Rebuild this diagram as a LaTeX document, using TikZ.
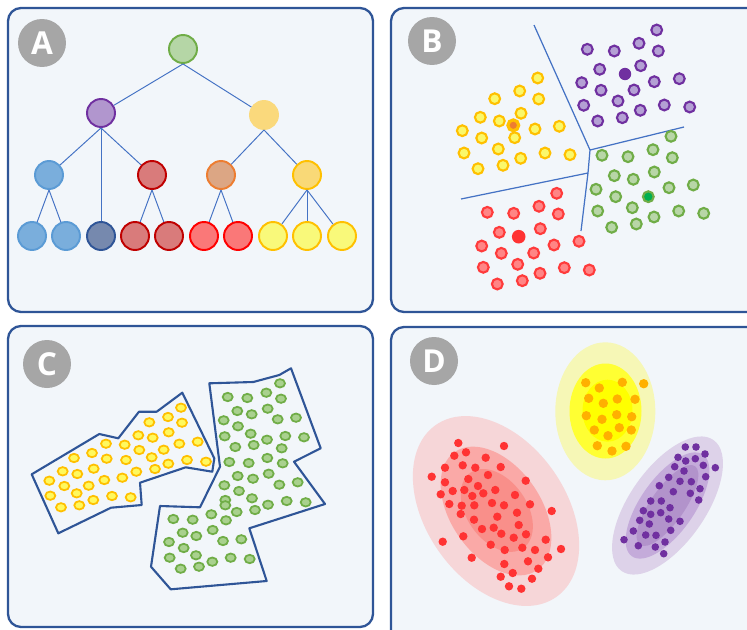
\documentclass[tikz,border=0pt]{standalone}
\usepackage{fontspec}
\newfontfamily\badgefont{Open Sans}
\usetikzlibrary{positioning}
\definecolor{panelbg}{HTML}{F2F6FA}
\definecolor{panelline}{HTML}{2F5597}
\definecolor{badgegray}{HTML}{A6A6A6}
\definecolor{linkblue}{HTML}{4472C4}
% tree colours
\definecolor{rootfill}{HTML}{B5D6A6}\definecolor{rootline}{HTML}{70AD47}
\definecolor{purfill}{HTML}{B196CE}\definecolor{purline}{HTML}{7030A0}
\definecolor{lyfill}{HTML}{FAD97C}
\definecolor{blufill}{HTML}{7AAEDC}\definecolor{bluline}{HTML}{5B9BD5}
\definecolor{dbfill}{HTML}{7689AE}\definecolor{dbline}{HTML}{2F5597}
\definecolor{drfill}{HTML}{D97B7B}\definecolor{drline}{HTML}{C00000}
\definecolor{orfill}{HTML}{DCA684}\definecolor{orline}{HTML}{ED7D31}
\definecolor{yofill}{HTML}{F9D977}\definecolor{yoline}{HTML}{FFC000}
\definecolor{brfill}{HTML}{FA7878}\definecolor{brline}{HTML}{FF0000}
\definecolor{ylfill}{HTML}{F9F97A}
% dot colours
\definecolor{bpurfill}{HTML}{B4A0D4}
\definecolor{byelfill}{HTML}{FAF86B}
\definecolor{bgrnfill}{HTML}{B8D6A7}\definecolor{bgrnctr}{HTML}{00B050}
\definecolor{bredfill}{HTML}{FF8585}\definecolor{bredline}{HTML}{FF3B3B}
\definecolor{cyelfill}{HTML}{FFF95E}\definecolor{cgrnfill}{HTML}{A9D18E}
\definecolor{dred}{HTML}{FF3333}\definecolor{dorange}{HTML}{FFB000}
% ellipse colours
\definecolor{redo}{HTML}{F6D6D8}\definecolor{redm}{HTML}{FAA9A7}\definecolor{redi}{HTML}{F98F8A}
\definecolor{yelo}{HTML}{F6F7B6}\definecolor{yelm}{HTML}{FFFF33}\definecolor{yeli}{HTML}{FFFF00}
\definecolor{puro}{HTML}{DDD2E9}\definecolor{purm}{HTML}{C4ABDA}\definecolor{puri}{HTML}{B293CB}

\begin{document}
\begin{tikzpicture}[x=0.02cm,y=-0.02cm,
    panel/.style={draw=panelline,fill=panelbg,line width=1.3pt,rounded corners=0.26cm},
    badge/.style={circle,fill=badgegray,text=white,minimum size=0.96cm,inner sep=0pt,
      font=\badgefont\bfseries\fontsize{18}{18}\selectfont},
    tnode/.style 2 args={circle,minimum size=0.56cm,inner sep=0pt,line width=1.1pt,
      fill=#1,draw=#2},
    link/.style={draw=linkblue,line width=0.55pt},
    bdot/.style 2 args={fill=#1,draw=#2,line width=1.2pt},
    cdot/.style 2 args={fill=#1,draw=#2,line width=1pt},
    region/.style={draw=panelline,line width=1.2pt,line join=round}
  ]
  \useasboundingbox (0,0) rectangle (747,629);
  \clip (0,0) rectangle (747,629);

  % panels
  \draw[panel] (8,8) rectangle (373,312);
  \draw[panel] (391,8) rectangle (762,312);
  \draw[panel] (8,326) rectangle (373,627);
  \draw[panel] (391,327) rectangle (762,645);
  \node[badge] (la) at (42,43) {A};
  \node[badge] (lb) at (432,41) {B};
  \node[badge] (lc) at (47,364) {C};
  \node[badge] (ld) at (434,361) {D};

  % A: hierarchy
  \node[tnode={rootfill}{rootline}] (root) at (183,49) {};
  \node[tnode={purfill}{purline}] (pu) at (101,113) {};
  \node[tnode={lyfill}{lyfill}] (ly) at (264,115) {};
  \node[tnode={blufill}{bluline}] (bl) at (49,175) {};
  \node[tnode={drfill}{drline}] (rd) at (152,175) {};
  \node[tnode={orfill}{orline}] (or) at (221,175) {};
  \node[tnode={yofill}{yoline}] (ye) at (307,175) {};
  \node[tnode={blufill}{bluline}] (l1) at (32,236) {};
  \node[tnode={blufill}{bluline}] (l2) at (66,236) {};
  \node[tnode={dbfill}{dbline}] (l3) at (101,236) {};
  \node[tnode={drfill}{drline}] (l4) at (135,236) {};
  \node[tnode={drfill}{drline}] (l5) at (169,236) {};
  \node[tnode={brfill}{brline}] (l6) at (204,236) {};
  \node[tnode={brfill}{brline}] (l7) at (238,236) {};
  \node[tnode={ylfill}{yoline}] (l8) at (273,236) {};
  \node[tnode={ylfill}{yoline}] (l9) at (307,236) {};
  \node[tnode={ylfill}{yoline}] (l10) at (342,236) {};
  \foreach \a/\b in {root/pu,root/ly,pu/bl,pu/l3,pu/rd,ly/or,ly/ye,bl/l1,bl/l2,
      rd/l4,rd/l5,or/l6,or/l7,ye/l8,ye/l9,ye/l10}
    \draw[link] (\a.south) -- (\b);

  % B: partition
  \coordinate (j1) at (590,150);
  \coordinate (j2) at (588,173);
  \coordinate (vt) at (534,25);
  \coordinate (vr) at (684,127);
  \coordinate (vl) at (461,199);
  \coordinate (vb) at (581,231);
  \draw[link,line width=0.7pt] (vt) -- (j1) -- (vr) (j1) -- (j2) -- (vl) (j2) -- (vb);
  \foreach \x/\y in {656.7/30,587.3/49.3,614.3/51,639/43.3,658.3/51,599.7/69.3,640.7/65.7,
      581.7/82.7,601/90.3,634/90,654.3/81.7,679.3/78.7,583.7/105.3,618/101,640.3/110.3,
      664.3/105,689.7/107,597.7/121,622.3/117.7}
    \draw[bdot={bpurfill}{purline}] (\x,\y) circle [radius=5.4];
  \fill[purline] (625,74) circle [radius=6.2];
  \foreach \x/\y in {537.7/78,519.7/91,538.7/99,494.7/98.7,521/113.3,480.3/117.3,499.3/121,
      535/129,559.3/126.3,462.3/130.7,481.7/138,514.7/137.7,498.3/149,464/153,520.7/158.3,
      545/153,570/154.7,478/168.7,503/165.3}
    \draw[bdot={byelfill}{yoline}] (\x,\y) circle [radius=5.4];
  \draw[bdot={orline}{yoline},line width=1.8pt] (513.3,125.3) circle [radius=5.4];
  \foreach \x/\y in {671/136.3,602/155.3,628/156.7,653/149.7,672.3/157.7,614.3/175.7,
      633.3/179.3,654.3/172,596/189.3,615.7/196.7,669/187.7,693.3/185,597.7/211,632.3/207.7,
      654/217,678.7/211,703.7/213.3,611.7/227.3,636.3/224}
    \draw[bdot={bgrnfill}{rootline}] (\x,\y) circle [radius=5.4];
  \draw[bdot={bgrnctr}{rootline}] (648.3,196.7) circle [radius=5.4];
  \foreach \x/\y in {556.7/193.3,487.3/212.3,513.7/213.3,539/206.3,558.3/214,499.3/232.3,
      540.3/228.7,481.7/246,501.3/253.3,533.7/253,554/245,579/241.3,483.3/267.3,517.7/264.3,
      540/273.3,564.3/267.7,589.3/270,497.3/284,522.3/280.7}
    \draw[bdot={bredfill}{bredline}] (\x,\y) circle [radius=5.4];
  \fill[dred] (518.7,236.7) circle [radius=6.8];

  % C: density regions
  \draw[region] (31.7,474.3) -- (99.3,434) -- (118.3,438.3) -- (139,411.7) -- (156.7,411.7)
    -- (182.3,392.7) -- (214.3,458.3) -- (212.3,471.7) -- (185.7,467.3) -- (140,482.7)
    -- (141.7,505) -- (111,507.7) -- (58.3,533.3) -- cycle;
  \draw[region] (209.3,383.3) -- (253.3,382) -- (279.3,375) -- (291,368.3) -- (320.7,448.3)
    -- (294,461.7) -- (325,504) -- (249.3,528.3) -- (266.7,581) -- (170.7,589.3)
    -- (151,566.7) -- (160,506) -- (200,507.3) -- (220,466.7) -- cycle;
  \foreach \x/\y in {181/407.7,149.3/422.3,168/417,182/422.7,138.3/435.3,152.7/437.7,
      168.7/432.3,106/443.7,124.7/444.7,74/458,92/453,106.7/458.7,126/460,139.3/450,
      151.7/457.3,163.7/449.7,179.3/443.7,197.7/441.7,62.7/471.3,77.3/474,93.7/468.7,
      49.3/480.7,64.3/486,88.7/485.7,104.3/480,122.3/477.7,136.3/471.7,155/469,168.3/463.7,
      187/460,206/461.7,50.3/495.7,76.7/493.3,61/507.3,79.3/505.3,93.3/500,112/496,130.7/497.3}
    \draw[cdot={cyelfill}{yoline}] (\x,\y) ellipse [x radius=5,y radius=4.2];
  \foreach \x/\y in {280/383.3,227.7/397,247.3/398,266.3/392.7,281/398.7,237.3/411,
      251.7/414.3,267.7/408.7,223.7/420.3,238/426.3,277.7/419.3,296/417.7,224.7/436.3,
      250.7/433.7,267/439.7,285.3/436,304/437.3,235.3/447,253.7/445,281.7/448.3,229.3/462,
      248.7/463,267.3/458,282.7/463.3,237.7/476,253/478.7,268.7/473.7,224.3/485.3,239/491,
      279.3/484.7,297.7/482.3,225.3/500,252/498.3,268/504.7,286.7/501,305.7/502.3,
      225.3/505.3,236.7/512,255/510,173.3/519,192.7/519.7,211.3/514.3,226/520.3,182.7/532.7,
      196.3/536,212.7/530,223/541,241.3/539.3,169/542,183.7/548,196/555.3,169.7/557.7,
      180.7/568.7,199/566.7,212.3/561.7,230.7/557.7,249.7/559}
    \draw[cdot={cgrnfill}{rootline}] (\x,\y) ellipse [x radius=5,y radius=4.2];

  % D: mixture components
  \begin{scope}[shift={(496,511)},rotate=-55]
    \fill[redo] (0,0) ellipse [x radius=105,y radius=70];
    \fill[redm] (0,0) ellipse [x radius=72,y radius=45];
    \fill[redi] (0,-1) ellipse [x radius=46,y radius=30];
  \end{scope}
  \fill[yelo] (605.3,411.3) ellipse [x radius=50,y radius=69];
  \fill[yelm] (605.5,411) ellipse [x radius=36,y radius=47.5];
  \fill[yeli] (607.5,410.7) ellipse [x radius=25,y radius=31];
  \begin{scope}[shift={(667.5,505.5)},rotate=55]
    \fill[puro] (0,0) ellipse [x radius=80,y radius=38];
    \fill[purm] (0,0) ellipse [x radius=62,y radius=27];
    \fill[puri] (0,0) ellipse [x radius=48,y radius=17];
  \end{scope}
  \foreach \x/\y in {458.3/443,504/446,466/452.3,454.3/455.7,485.7/457.7,445/467.7,
      462.7/465.3,475.3/467.7,500.7/467,431.7/476.7,488/475,468.3/479,445/482.3,525.7/480.7,
      478/486,452.7/491,464.3/490,495.3/490,440.7/494.3,483.3/493.3,472.3/496,515/495,
      449.3/504,461.7/505.7,474.3/505.3,492/503,504/505.3,530/504.3,551.7/511,460.7/514,
      497.3/516.7,517/512.7,474/519.7,518.7/525,482/529,493.7/527.7,501.3/533.7,526/534.3,
      463.3/536.3,513.7/537.7,442.7/541.7,490.7/544.7,545.7/539.7,522.3/547.7,504.7/550,
      535/550,561/549,471.7/557.7,548/557.3,528/561.3,504.3/564,538.3/568.7,512.7/573,
      500.7/576.7,532/578.7,509/586.3,521.3/588.7}
    \fill[dred] (\x,\y) circle [radius=4.2];
  \foreach \x/\y in {585.7/382.7,599.3/388,622.3/382.3,643.7/383.7,588.7/398.3,603.3/403.3,
      617.3/399,635/399.3,586.3/415.7,602/419.3,616.7/414.7,631.7/416.7,594.3/430,608/435.7,
      619.3/427.7,631.3/430,597.3/445.7,612/451,626/446.3}
    \fill[dorange] (\x,\y) circle [radius=4.7];
  \foreach \x/\y in {685.3/447,696/447,705/454,678/457.3,685.7/461,695.3/458.7,703.3/465.3,
      715.3/467.7,674.7/466.7,684/471,705.7/476.7,668.7/477.3,680/481.3,691.3/481.7,
      659.3/485.7,673.3/491.7,690.3/493.3,700/488.7,698.7/500,650.7/501,661.3/501,670/507.7,
      643.3/510.7,650.7/514.3,660.7/512.7,639.7/520.3,649.3/524,668.7/519,680/521.3,633.3/531,
      645.7/535,656/535.3,670.7/530.3,624/539.7,638.3/545.7,655.3/547,665/542,663.7/553.7}
    \fill[purline] (\x,\y) circle [radius=3.8];
\end{tikzpicture}
\end{document}
